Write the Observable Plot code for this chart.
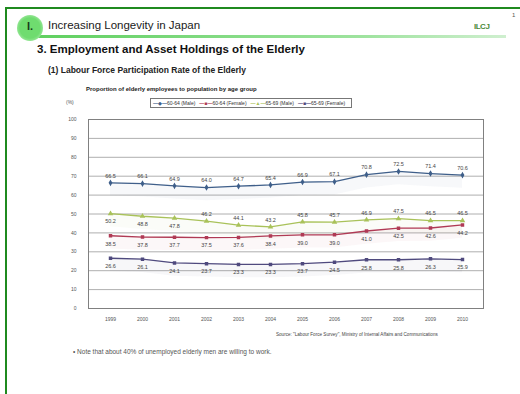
<!DOCTYPE html>
<html>
<head>
<meta charset="utf-8">
<script src="https://cdn.jsdelivr.net/npm/d3@7"></script>
<script src="https://cdn.jsdelivr.net/npm/@observablehq/plot@0.6"></script>
<style>
  html, body { margin: 0; padding: 0; background: #fff; }
  body { width: 520px; height: 394px; position: relative; overflow: hidden; font-family: "Liberation Sans", Arial, sans-serif; }
  .abs { position: absolute; white-space: nowrap; }
  #frame { left: 5px; top: 7px; width: 540px; height: 420px; border-left: 2px solid #1f8a1f; border-top: 2px solid #1f8a1f; }
  #circle { left: 17px; top: 15px; width: 26px; height: 26px; border-radius: 50%; background: radial-gradient(circle, #6fdc6f 55%, #a9eba9 80%, rgba(255,255,255,0) 100%); }
  #roman { left: 27px; top: 20px; font-size: 11px; font-weight: bold; color: #1a3a1a; }
  #bar { left: 36px; top: 35px; width: 470px; height: 3px; background: linear-gradient(90deg, #5fd05f, #9fe39f 70%, #cfefcf); }
  #title1 { left: 48px; top: 19px; font-size: 11.5px; color: #1a1a1a; }
  #logo { left: 474px; top: 22px; font-size: 8px; color: #4a8a3a; font-weight: bold; letter-spacing: -0.5px; }
  #pg { left: 512px; top: 12px; font-size: 6px; color: #555; }
  #title2 { left: 37px; top: 43px; font-size: 11.5px; font-weight: bold; color: #111; }
  #title3 { left: 48px; top: 65px; font-size: 8.5px; font-weight: bold; color: #222; }
  #ctitle { left: 86px; top: 86px; font-size: 6px; font-weight: bold; color: #222; }
  #unit { left: 66px; top: 99px; font-size: 5px; color: #555; }
  #legend { left: 150px; top: 98px; border: 1px solid #777; padding: 0 2px; font-size: 5px; height: 8px; line-height: 8px; color: #333; background: #fff; }
  #legend span { margin-right: 4px; }
  #source { left: 276px; top: 332px; font-size: 4.6px; color: #444; }
  #note { left: 73px; top: 348px; font-size: 6.5px; color: #555; }
  #chart { left: 40px; top: 100px; }
</style>
</head>
<body>
<div class="abs" id="frame"></div>
<div class="abs" id="bar"></div>
<div class="abs" id="circle"></div>
<div class="abs" id="roman">I.</div>
<div class="abs" id="title1">Increasing Longevity in Japan</div>
<div class="abs" id="logo">ILCJ</div>
<div class="abs" id="pg">1</div>
<div class="abs" id="title2">3. Employment and Asset Holdings of the Elderly</div>
<div class="abs" id="title3">(1) Labour Force Participation Rate of the Elderly</div>
<div class="abs" id="ctitle">Proportion of elderly employees to population by age group</div>
<div class="abs" id="chart"></div>
<div class="abs" id="unit">(%)</div>
<div class="abs" id="legend"></div>
<div class="abs" id="source">Source: "Labour Force Survey", Ministry of Internal Affairs and Communications</div>
<div class="abs" id="note">• Note that about 40% of unemployed elderly men are willing to work.</div>
<script>
const years = ["1999","2000","2001","2002","2003","2004","2005","2006","2007","2008","2009","2010"];
const seriesNames = ["60-64 (Male)", "60-64 (Female)", "65-69 (Male)", "65-69 (Female)"];
const male6064 = [66.5, 66.1, 64.9, 64.0, 64.7, 65.4, 66.9, 67.1, 70.8, 72.5, 71.4, 70.6];
const female6064 = [38.5, 37.8, 37.7, 37.5, 37.6, 38.4, 39.0, 39.0, 41.0, 42.5, 42.6, 44.2];
const male6569 = [50.2, 48.8, 47.8, 46.2, 44.1, 43.2, 45.8, 45.7, 46.9, 47.5, 46.5, 46.5];
const female6569 = [26.6, 26.1, 24.1, 23.7, 23.3, 23.3, 23.7, 24.5, 25.8, 25.8, 26.3, 25.9];
const yTicks = [0, 10, 20, 30, 40, 50, 60, 70, 80, 90, 100];

const colors = ["#3f5f8a", "#b03a55", "#a9c25a", "#4f4a7e"];
const symbols = ["diamond", "square", "triangle", "square"];
const allValues = [male6064, female6064, male6569, female6569];

const data = [];
allValues.forEach((vals, s) => {
  vals.forEach((v, i) => data.push({ series: seriesNames[s], year: years[i], value: v, s, i }));
});

// label placement: above for 60-64 male and later 65-69 male; below otherwise
const above = d => d.s === 0 || (d.s === 2 && d.i >= 3);

const chart = Plot.plot({
  width: 460,
  height: 230,
  marginLeft: 48,
  marginRight: 17,
  marginTop: 19,
  marginBottom: 22,
  style: { fontFamily: "Liberation Sans, Arial, sans-serif", fontSize: "5px", color: "#555" },
  x: { type: "point", domain: years, padding: 0.5, label: null },
  y: { domain: [0, 100], label: null },
  color: { domain: seriesNames, range: colors },
  symbol: { domain: seriesNames, range: symbols },
  marks: [
    Plot.gridY(yTicks, { stroke: "#9a9a9a", strokeOpacity: 1, strokeWidth: 0.8 }),
    Plot.frame({ stroke: "#808080", strokeWidth: 1 }),
    Plot.areaY(data, { x: "year", y1: d => d.value - 7, y2: "value", fill: "series", fillOpacity: 0.045, z: "series" }),
    Plot.line(data, { x: "year", y: "value", stroke: "series", z: "series", strokeWidth: 1.3 }),
    Plot.dot(data, { x: "year", y: "value", symbol: "series", fill: "series", stroke: "series", r: 1.1 }),
    Plot.text(data.filter(above), { x: "year", y: "value", text: d => d.value.toFixed(1), dy: -7, fill: "#444", fontSize: 5.5 }),
    Plot.text(data.filter(d => !above(d)), { x: "year", y: "value", text: d => d.value.toFixed(1), dy: 8, fill: "#444", fontSize: 5.5 }),
    Plot.axisX({ tickSize: 0, tickPadding: 9, fontSize: 5, fill: "#555" }),
    Plot.axisY(yTicks, { tickSize: 0, tickPadding: 12, fontSize: 5, fill: "#555" })
  ]
});
document.getElementById("chart").appendChild(chart);

const legend = document.getElementById("legend");
const glyphs = ["◆", "■", "▲", "■"];
seriesNames.forEach((n, i) => {
  const sp = document.createElement("span");
  sp.innerHTML = `<b style="color:${colors[i]}">—${glyphs[i]}—</b>${n}`;
  legend.appendChild(sp);
});
</script>
</body>
</html>
